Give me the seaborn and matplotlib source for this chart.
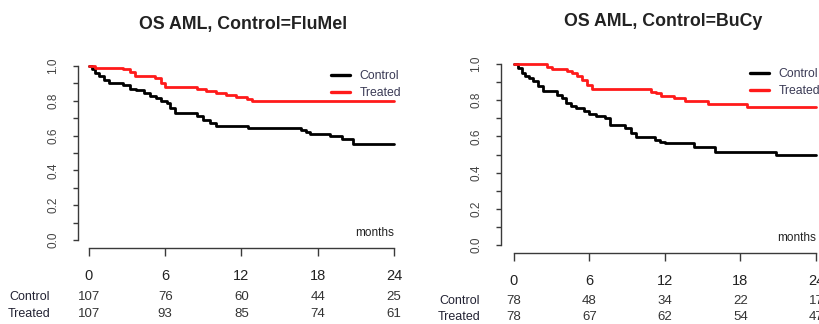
import matplotlib
matplotlib.use('Agg')
import matplotlib.pyplot as plt
import matplotlib.transforms as mtransforms
import seaborn as sns
import pandas as pd

# Kaplan-Meier steps (months, survival)
flumel_control_t = [0, 0.2, 0.5, 0.8, 1.2, 1.6, 2.7, 3.2, 3.7, 4.3, 4.8, 5.3, 5.7, 6.1, 6.4,
                    6.8, 8.5, 9.0, 9.5, 10.0, 12.5, 16.7, 17.1, 17.4, 19.0, 19.9, 20.8, 24]
flumel_control_s = [1.0, 0.98, 0.96, 0.94, 0.92, 0.90, 0.89, 0.87, 0.86, 0.845, 0.83, 0.815, 0.80, 0.785, 0.76,
                    0.73, 0.71, 0.69, 0.67, 0.657, 0.645, 0.63, 0.62, 0.61, 0.598, 0.58, 0.55, 0.55]
flumel_treated_t = [0, 0.5, 2.7, 3.2, 3.6, 5.2, 5.7, 6.0, 8.5, 9.2, 10.0, 10.8, 11.6, 12.4, 12.8, 24]
flumel_treated_s = [1.0, 0.99, 0.98, 0.965, 0.945, 0.93, 0.90, 0.878, 0.866, 0.855, 0.845, 0.832, 0.82, 0.81, 0.80, 0.80]

bucy_control_t = [0, 0.3, 0.6, 0.9, 1.2, 1.5, 1.9, 2.3, 3.4, 3.8, 4.1, 4.5, 4.9, 5.6, 6.0, 6.5, 7.2, 7.6,
                  8.8, 9.3, 9.7, 11.2, 11.6, 12.0, 14.3, 16.0, 20.8, 24]
bucy_control_s = [1.0, 0.98, 0.95, 0.935, 0.92, 0.905, 0.88, 0.85, 0.83, 0.81, 0.785, 0.77, 0.755, 0.74, 0.725,
                  0.715, 0.70, 0.665, 0.645, 0.62, 0.598, 0.58, 0.57, 0.562, 0.54, 0.513, 0.495, 0.495]
bucy_treated_t = [0, 2.6, 3.0, 4.2, 4.6, 5.0, 5.4, 5.8, 6.2, 10.9, 11.3, 11.7, 12.7, 13.6, 15.4, 18.5, 24]
bucy_treated_s = [1.0, 0.985, 0.975, 0.96, 0.95, 0.935, 0.91, 0.885, 0.86, 0.848, 0.838, 0.825, 0.812, 0.795,
                  0.78, 0.765, 0.765]

risk_times = [0, 6, 12, 18, 24]
flumel_risk_control = [107, 76, 60, 44, 25]
flumel_risk_treated = [107, 93, 85, 74, 61]
bucy_risk_control = [78, 48, 34, 22, 17]
bucy_risk_treated = [78, 67, 62, 54, 47]

W, H = 820, 324
AXCOL = '#3a3a3a'

sns.set_theme(style='white')
plt.rcParams['font.family'] = ['Liberation Sans', 'DejaVu Sans']


def fy(ypx):
  return 1 - ypx / H


def PlotPanel(fig, box, title, title_xy, ctrl, trt, risk_ctrl, risk_trt, legend_xy, risk_rows, label_right, offsets):
  """Draws one KM panel in R style
      box: (x0_px, x24_px, y1_px, y0_px) pixel positions of the data range
  """
  x0, x24, y1, y0 = box
  ax = fig.add_axes([x0 / W, fy(y0), (x24 - x0) / W, (y0 - y1) / H])

  df = pd.concat([
      pd.DataFrame({'months': ctrl[0], 'surv': ctrl[1], 'group': 'Control'}),
      pd.DataFrame({'months': trt[0], 'surv': trt[1], 'group': 'Treated'}),
  ])
  sns.lineplot(data=df, x='months', y='surv', hue='group', palette={'Control': '#000000', 'Treated': '#ff1a1a'},
               drawstyle='steps-post', estimator=None, linewidth=2.0, ax=ax, clip_on=False)

  ax.set_xlim(0, 24)
  ax.set_ylim(0, 1)
  ax.set_xlabel('')
  ax.set_ylabel('')
  for s in ['top', 'right']:
    ax.spines[s].set_visible(False)
  ax.spines['left'].set_position(('outward', offsets[0] * 0.72))
  ax.spines['bottom'].set_position(('outward', offsets[1] * 0.72))
  ax.spines['left'].set_bounds(0, 1)
  ax.spines['bottom'].set_bounds(0, 24)
  for s in ['left', 'bottom']:
    ax.spines[s].set_color(AXCOL)
    ax.spines[s].set_linewidth(1.0)

  yt = [i / 10 for i in range(11)]
  ax.set_yticks(yt)
  ax.set_yticklabels([f'{v:.1f}' if i % 2 == 0 else '' for i, v in enumerate(yt)],
                     rotation=90, va='center', fontsize=8.5, color='#444444')
  ax.set_xticks(risk_times)
  ax.set_xticklabels([str(t) for t in risk_times], fontsize=10.5, color='#222222')
  ax.tick_params(axis='y', left=True, length=3.6, width=1.0, color=AXCOL, pad=10)
  ax.tick_params(axis='x', bottom=True, length=5.8, width=1.0, color=AXCOL, pad=9)

  ax.text(24, 0.005, 'months', ha='right', va='bottom', fontsize=8.5, color='#222222')

  handles, labels = ax.get_legend_handles_labels()
  leg = ax.legend(handles, labels, loc='upper left', bbox_to_anchor=(legend_xy[0] / W, fy(legend_xy[1])),
                  bbox_transform=fig.transFigure, frameon=False, fontsize=8.8, handlelength=1.55,
                  handletextpad=0.8, labelspacing=0.45, borderpad=0, borderaxespad=0)
  for t in leg.get_texts():
    t.set_color('#3a3a55')
  for l in leg.get_lines():
    l.set_linewidth(2.4)

  fig.text(title_xy[0] / W, fy(title_xy[1]), title, ha='center', va='center',
           fontsize=12.8, fontweight='bold', color='#222222')

  # number at risk table
  trans = mtransforms.blended_transform_factory(ax.transData, fig.transFigure)
  for name, vals, ypx in [('Control', risk_ctrl, risk_rows[0]), ('Treated', risk_trt, risk_rows[1])]:
    fig.text(label_right / W, fy(ypx), name, ha='right', va='center', fontsize=9, color='#222233')
    for t, v in zip(risk_times, vals):
      ax.text(t, fy(ypx), str(v), transform=trans, ha='center', va='center', fontsize=9.5, color='#333333',
              clip_on=False)
  return ax


fig = plt.figure(figsize=(W / 100, H / 100), dpi=100)
fig.patch.set_facecolor('white')

PlotPanel(fig, (89, 394, 66, 240), 'OS AML, Control=FluMel', (243, 24),
          (flumel_control_t, flumel_control_s), (flumel_treated_t, flumel_treated_s),
          flumel_risk_control, flumel_risk_treated, (331, 70), (297, 314), 50, (11, 8))
PlotPanel(fig, (514, 816, 64, 245), 'OS AML, Control=BuCy', (663, 22),
          (bucy_control_t, bucy_control_s), (bucy_treated_t, bucy_treated_s),
          bucy_risk_control, bucy_risk_treated, (750, 68), (301, 317), 480, (13, 8))

fig.savefig('out.png', dpi=100)
plt.close(fig)
